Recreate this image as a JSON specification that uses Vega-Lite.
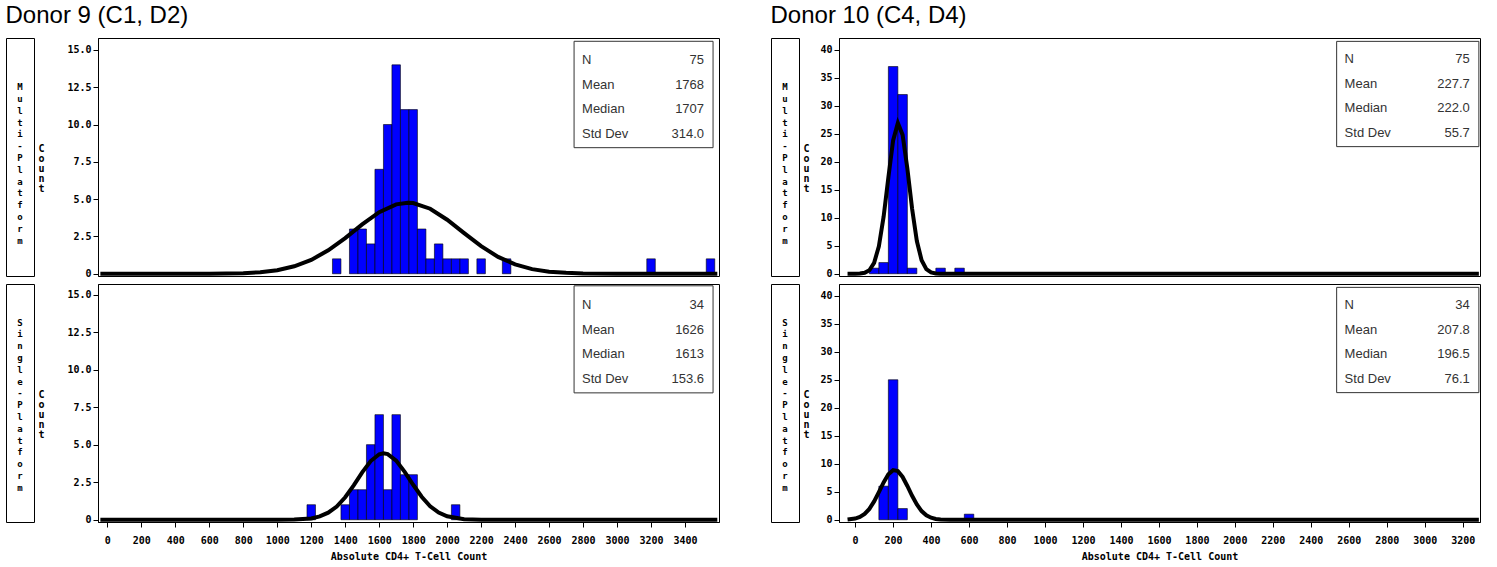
{
  "$schema": "https://vega.github.io/schema/vega-lite/v6.json",
  "padding": {"left": 5, "top": 3, "right": 0, "bottom": 0},
  "background": "white",
  "config": {
    "view": {"stroke": "black", "strokeWidth": 1},
    "font": "DejaVu Sans Mono",
    "axis": {"grid": false, "tickCount": 60, "domainColor": "black", "tickColor": "black", "labelFont": "DejaVu Sans Mono", "labelFontWeight": "bold", "labelFontSize": 10, "labelColor": "black", "labelOverlap": false, "labelFlush": false, "labelBound": false, "titleFont": "DejaVu Sans Mono", "titleFontWeight": "bold", "titleFontSize": 10, "titleColor": "black", "tickSize": 5}
  },
  "datasets": {
    "bars": [
      {"donor": "9", "platform": "Multi", "lo": 1325, "hi": 1375, "n": 1},
      {"donor": "9", "platform": "Multi", "lo": 1425, "hi": 1475, "n": 3},
      {"donor": "9", "platform": "Multi", "lo": 1475, "hi": 1525, "n": 3},
      {"donor": "9", "platform": "Multi", "lo": 1525, "hi": 1575, "n": 2},
      {"donor": "9", "platform": "Multi", "lo": 1575, "hi": 1625, "n": 7},
      {"donor": "9", "platform": "Multi", "lo": 1625, "hi": 1675, "n": 10},
      {"donor": "9", "platform": "Multi", "lo": 1675, "hi": 1725, "n": 14},
      {"donor": "9", "platform": "Multi", "lo": 1725, "hi": 1775, "n": 11},
      {"donor": "9", "platform": "Multi", "lo": 1775, "hi": 1825, "n": 11},
      {"donor": "9", "platform": "Multi", "lo": 1825, "hi": 1875, "n": 3},
      {"donor": "9", "platform": "Multi", "lo": 1875, "hi": 1925, "n": 1},
      {"donor": "9", "platform": "Multi", "lo": 1925, "hi": 1975, "n": 2},
      {"donor": "9", "platform": "Multi", "lo": 1975, "hi": 2025, "n": 1},
      {"donor": "9", "platform": "Multi", "lo": 2025, "hi": 2075, "n": 1},
      {"donor": "9", "platform": "Multi", "lo": 2075, "hi": 2125, "n": 1},
      {"donor": "9", "platform": "Multi", "lo": 2175, "hi": 2225, "n": 1},
      {"donor": "9", "platform": "Multi", "lo": 2325, "hi": 2375, "n": 1},
      {"donor": "9", "platform": "Multi", "lo": 3175, "hi": 3225, "n": 1},
      {"donor": "9", "platform": "Multi", "lo": 3525, "hi": 3575, "n": 1},
      {"donor": "9", "platform": "Single", "lo": 1175, "hi": 1225, "n": 1},
      {"donor": "9", "platform": "Single", "lo": 1375, "hi": 1425, "n": 1},
      {"donor": "9", "platform": "Single", "lo": 1425, "hi": 1475, "n": 2},
      {"donor": "9", "platform": "Single", "lo": 1475, "hi": 1525, "n": 2},
      {"donor": "9", "platform": "Single", "lo": 1525, "hi": 1575, "n": 5},
      {"donor": "9", "platform": "Single", "lo": 1575, "hi": 1625, "n": 7},
      {"donor": "9", "platform": "Single", "lo": 1625, "hi": 1675, "n": 2},
      {"donor": "9", "platform": "Single", "lo": 1675, "hi": 1725, "n": 7},
      {"donor": "9", "platform": "Single", "lo": 1725, "hi": 1775, "n": 3},
      {"donor": "9", "platform": "Single", "lo": 1775, "hi": 1825, "n": 3},
      {"donor": "9", "platform": "Single", "lo": 2025, "hi": 2075, "n": 1},
      {"donor": "10", "platform": "Multi", "lo": 75, "hi": 125, "n": 1},
      {"donor": "10", "platform": "Multi", "lo": 125, "hi": 175, "n": 2},
      {"donor": "10", "platform": "Multi", "lo": 175, "hi": 225, "n": 37},
      {"donor": "10", "platform": "Multi", "lo": 225, "hi": 275, "n": 32},
      {"donor": "10", "platform": "Multi", "lo": 275, "hi": 325, "n": 1},
      {"donor": "10", "platform": "Multi", "lo": 425, "hi": 475, "n": 1},
      {"donor": "10", "platform": "Multi", "lo": 525, "hi": 575, "n": 1},
      {"donor": "10", "platform": "Single", "lo": 125, "hi": 175, "n": 6},
      {"donor": "10", "platform": "Single", "lo": 175, "hi": 225, "n": 25},
      {"donor": "10", "platform": "Single", "lo": 225, "hi": 275, "n": 2},
      {"donor": "10", "platform": "Single", "lo": 575, "hi": 625, "n": 1}
    ],
    "curve": [
      {"donor": "9", "platform": "Multi", "x": -41, "y": 0},
      {"donor": "9", "platform": "Multi", "x": 600, "y": 0.005},
      {"donor": "9", "platform": "Multi", "x": 800, "y": 0.04},
      {"donor": "9", "platform": "Multi", "x": 900, "y": 0.1},
      {"donor": "9", "platform": "Multi", "x": 1000, "y": 0.24},
      {"donor": "9", "platform": "Multi", "x": 1100, "y": 0.5},
      {"donor": "9", "platform": "Multi", "x": 1200, "y": 0.93},
      {"donor": "9", "platform": "Multi", "x": 1300, "y": 1.57},
      {"donor": "9", "platform": "Multi", "x": 1400, "y": 2.39},
      {"donor": "9", "platform": "Multi", "x": 1500, "y": 3.31},
      {"donor": "9", "platform": "Multi", "x": 1600, "y": 4.13},
      {"donor": "9", "platform": "Multi", "x": 1700, "y": 4.65},
      {"donor": "9", "platform": "Multi", "x": 1768, "y": 4.76},
      {"donor": "9", "platform": "Multi", "x": 1800, "y": 4.74},
      {"donor": "9", "platform": "Multi", "x": 1900, "y": 4.36},
      {"donor": "9", "platform": "Multi", "x": 2000, "y": 3.62},
      {"donor": "9", "platform": "Multi", "x": 2100, "y": 2.72},
      {"donor": "9", "platform": "Multi", "x": 2200, "y": 1.85},
      {"donor": "9", "platform": "Multi", "x": 2300, "y": 1.13},
      {"donor": "9", "platform": "Multi", "x": 2400, "y": 0.63},
      {"donor": "9", "platform": "Multi", "x": 2500, "y": 0.31},
      {"donor": "9", "platform": "Multi", "x": 2600, "y": 0.14},
      {"donor": "9", "platform": "Multi", "x": 2700, "y": 0.06},
      {"donor": "9", "platform": "Multi", "x": 2800, "y": 0.02},
      {"donor": "9", "platform": "Multi", "x": 3000, "y": 0},
      {"donor": "9", "platform": "Multi", "x": 3590, "y": 0},
      {"donor": "9", "platform": "Single", "x": -41, "y": 0},
      {"donor": "9", "platform": "Single", "x": 1000, "y": 0},
      {"donor": "9", "platform": "Single", "x": 1100, "y": 0.01},
      {"donor": "9", "platform": "Single", "x": 1200, "y": 0.09},
      {"donor": "9", "platform": "Single", "x": 1250, "y": 0.22},
      {"donor": "9", "platform": "Single", "x": 1300, "y": 0.47},
      {"donor": "9", "platform": "Single", "x": 1350, "y": 0.88},
      {"donor": "9", "platform": "Single", "x": 1400, "y": 1.5},
      {"donor": "9", "platform": "Single", "x": 1450, "y": 2.29},
      {"donor": "9", "platform": "Single", "x": 1500, "y": 3.16},
      {"donor": "9", "platform": "Single", "x": 1550, "y": 3.91},
      {"donor": "9", "platform": "Single", "x": 1600, "y": 4.36},
      {"donor": "9", "platform": "Single", "x": 1626, "y": 4.42},
      {"donor": "9", "platform": "Single", "x": 1650, "y": 4.37},
      {"donor": "9", "platform": "Single", "x": 1700, "y": 3.94},
      {"donor": "9", "platform": "Single", "x": 1750, "y": 3.19},
      {"donor": "9", "platform": "Single", "x": 1800, "y": 2.33},
      {"donor": "9", "platform": "Single", "x": 1850, "y": 1.53},
      {"donor": "9", "platform": "Single", "x": 1900, "y": 0.9},
      {"donor": "9", "platform": "Single", "x": 1950, "y": 0.48},
      {"donor": "9", "platform": "Single", "x": 2000, "y": 0.23},
      {"donor": "9", "platform": "Single", "x": 2100, "y": 0.04},
      {"donor": "9", "platform": "Single", "x": 2200, "y": 0},
      {"donor": "9", "platform": "Single", "x": 3590, "y": 0},
      {"donor": "10", "platform": "Multi", "x": -40, "y": 0},
      {"donor": "10", "platform": "Multi", "x": 0, "y": 0.01},
      {"donor": "10", "platform": "Multi", "x": 25, "y": 0.04},
      {"donor": "10", "platform": "Multi", "x": 50, "y": 0.17},
      {"donor": "10", "platform": "Multi", "x": 75, "y": 0.63},
      {"donor": "10", "platform": "Multi", "x": 100, "y": 1.94},
      {"donor": "10", "platform": "Multi", "x": 125, "y": 4.92},
      {"donor": "10", "platform": "Multi", "x": 150, "y": 10.2},
      {"donor": "10", "platform": "Multi", "x": 175, "y": 17.2},
      {"donor": "10", "platform": "Multi", "x": 200, "y": 23.8},
      {"donor": "10", "platform": "Multi", "x": 225, "y": 26.9},
      {"donor": "10", "platform": "Multi", "x": 250, "y": 24.8},
      {"donor": "10", "platform": "Multi", "x": 275, "y": 18.8},
      {"donor": "10", "platform": "Multi", "x": 300, "y": 11.6},
      {"donor": "10", "platform": "Multi", "x": 325, "y": 5.85},
      {"donor": "10", "platform": "Multi", "x": 350, "y": 2.42},
      {"donor": "10", "platform": "Multi", "x": 375, "y": 0.81},
      {"donor": "10", "platform": "Multi", "x": 400, "y": 0.23},
      {"donor": "10", "platform": "Multi", "x": 425, "y": 0.05},
      {"donor": "10", "platform": "Multi", "x": 450, "y": 0.01},
      {"donor": "10", "platform": "Multi", "x": 500, "y": 0},
      {"donor": "10", "platform": "Multi", "x": 3285, "y": 0},
      {"donor": "10", "platform": "Single", "x": -40, "y": 0.05},
      {"donor": "10", "platform": "Single", "x": 0, "y": 0.21},
      {"donor": "10", "platform": "Single", "x": 25, "y": 0.5},
      {"donor": "10", "platform": "Single", "x": 50, "y": 1.04},
      {"donor": "10", "platform": "Single", "x": 75, "y": 1.94},
      {"donor": "10", "platform": "Single", "x": 100, "y": 3.27},
      {"donor": "10", "platform": "Single", "x": 125, "y": 4.93},
      {"donor": "10", "platform": "Single", "x": 150, "y": 6.67},
      {"donor": "10", "platform": "Single", "x": 175, "y": 8.12},
      {"donor": "10", "platform": "Single", "x": 200, "y": 8.86},
      {"donor": "10", "platform": "Single", "x": 225, "y": 8.68},
      {"donor": "10", "platform": "Single", "x": 250, "y": 7.64},
      {"donor": "10", "platform": "Single", "x": 275, "y": 6.03},
      {"donor": "10", "platform": "Single", "x": 300, "y": 4.28},
      {"donor": "10", "platform": "Single", "x": 325, "y": 2.72},
      {"donor": "10", "platform": "Single", "x": 350, "y": 1.55},
      {"donor": "10", "platform": "Single", "x": 375, "y": 0.8},
      {"donor": "10", "platform": "Single", "x": 400, "y": 0.37},
      {"donor": "10", "platform": "Single", "x": 425, "y": 0.15},
      {"donor": "10", "platform": "Single", "x": 450, "y": 0.06},
      {"donor": "10", "platform": "Single", "x": 500, "y": 0.01},
      {"donor": "10", "platform": "Single", "x": 550, "y": 0},
      {"donor": "10", "platform": "Single", "x": 3285, "y": 0}
    ],
    "stats": [
      {"donor": "9", "platform": "Multi", "labels": "N\nMean\nMedian\nStd Dev", "values": "75\n1768\n1707\n314.0"},
      {"donor": "9", "platform": "Single", "labels": "N\nMean\nMedian\nStd Dev", "values": "34\n1626\n1613\n153.6"},
      {"donor": "10", "platform": "Multi", "labels": "N\nMean\nMedian\nStd Dev", "values": "75\n227.7\n222.0\n55.7"},
      {"donor": "10", "platform": "Single", "labels": "N\nMean\nMedian\nStd Dev", "values": "34\n207.8\n196.5\n76.1"}
    ],
    "rowlabels": [
      {"platform": "Multi", "txt": "M\nu\nl\nt\ni\n-\nP\nl\na\nt\nf\no\nr\nm"},
      {"platform": "Single", "txt": "S\ni\nn\ng\nl\ne\n-\nP\nl\na\nt\nf\no\nr\nm"}
    ]
  },
  "spacing": 50,
  "hconcat": [
    {
      "title": {"text": "Donor 9 (C1, D2)", "anchor": "start", "font": "Liberation Sans", "fontSize": 24, "fontWeight": "normal", "color": "black", "offset": 10},
      "spacing": 3,
      "vconcat": [
        {
          "spacing": 2,
          "hconcat": [
            {"width": 28, "height": 238, "data": {"name": "rowlabels"}, "transform": [{"filter": "datum.platform == 'Multi'"}],
             "mark": {"type": "text", "baseline": "top", "lineBreak": "\n", "lineHeight": 11.8, "fontWeight": "bold", "fontSize": 9, "font": "DejaVu Sans Mono", "color": "black"},
             "encoding": {"text": {"field": "txt"}, "x": {"datum": 0.5, "scale": {"domain": [0, 1]}, "axis": null}, "y": {"datum": 0.81, "scale": {"domain": [0, 1]}, "axis": null}}},
            {"width": 621, "height": 238,
             "layer": [
               {"data": {"name": "bars"}, "transform": [{"filter": "datum.donor == '9' && datum.platform == 'Multi'"}],
                "mark": {"type": "rect", "fill": "#0000FF", "stroke": "black", "strokeWidth": 0.6},
                "encoding": {
                  "x": {"field": "lo", "type": "quantitative", "scale": {"domain": [-55, 3600], "nice": false, "zero": false}, "axis": null},
                  "x2": {"field": "hi"},
                  "y": {"field": "n", "type": "quantitative", "scale": {"domain": [-0.15, 15.8], "nice": false, "zero": false},
                        "axis": {"values": [0, 2.5, 5, 7.5, 10, 12.5, 15], "tickCount": 60, "labelExpr": "datum.value == 0 ? '0' : format(datum.value, '.1f')", "title": ["C", "o", "u", "n", "t"], "titleAngle": 0, "titleLineHeight": 10, "titleAlign": "center", "titleBaseline": "middle", "titleX": -57, "titleY": 110}},
                  "y2": {"datum": 0}
                }},
               {"data": {"name": "curve"}, "transform": [{"filter": "datum.donor == '9' && datum.platform == 'Multi'"}],
                "mark": {"type": "line", "color": "black", "strokeWidth": 4, "clip": true},
                "encoding": {"x": {"field": "x", "type": "quantitative"}, "y": {"field": "y", "type": "quantitative"}}},
               {"data": {"name": "stats"}, "transform": [{"filter": "datum.donor == '9' && datum.platform == 'Multi'"}],
                "mark": {"type": "rect", "fill": "white", "stroke": "#333", "strokeWidth": 1},
                "encoding": {"x": {"datum": 2747}, "x2": {"datum": 3565}, "y": {"datum": 15.58}, "y2": {"datum": 8.45}}},
               {"data": {"name": "stats"}, "transform": [{"filter": "datum.donor == '9' && datum.platform == 'Multi'"}],
                "mark": {"type": "text", "align": "left", "baseline": "top", "lineBreak": "\n", "lineHeight": 24.5, "font": "Liberation Sans", "fontSize": 13, "color": "#333"},
                "encoding": {"text": {"field": "labels"}, "x": {"datum": 2794}, "y": {"datum": 14.7}}},
               {"data": {"name": "stats"}, "transform": [{"filter": "datum.donor == '9' && datum.platform == 'Multi'"}],
                "mark": {"type": "text", "align": "right", "baseline": "top", "lineBreak": "\n", "lineHeight": 24.5, "font": "Liberation Sans", "fontSize": 13, "color": "#333"},
                "encoding": {"text": {"field": "values"}, "x": {"datum": 3512}, "y": {"datum": 14.7}}}
             ]}
          ]
        },
        {
          "spacing": 2,
          "hconcat": [
            {"width": 28, "height": 238, "data": {"name": "rowlabels"}, "transform": [{"filter": "datum.platform == 'Single'"}],
             "mark": {"type": "text", "baseline": "top", "lineBreak": "\n", "lineHeight": 11.8, "fontWeight": "bold", "fontSize": 9, "font": "DejaVu Sans Mono", "color": "black"},
             "encoding": {"text": {"field": "txt"}, "x": {"datum": 0.5, "scale": {"domain": [0, 1]}, "axis": null}, "y": {"datum": 0.855, "scale": {"domain": [0, 1]}, "axis": null}}},
            {"width": 621, "height": 238,
             "layer": [
               {"data": {"name": "bars"}, "transform": [{"filter": "datum.donor == '9' && datum.platform == 'Single'"}],
                "mark": {"type": "rect", "fill": "#0000FF", "stroke": "black", "strokeWidth": 0.6},
                "encoding": {
                  "x": {"field": "lo", "type": "quantitative", "scale": {"domain": [-55, 3600], "nice": false, "zero": false},
                        "axis": {"values": [0, 200, 400, 600, 800, 1000, 1200, 1400, 1600, 1800, 2000, 2200, 2400, 2600, 2800, 3000, 3200, 3400], "tickCount": 60, "format": "d", "title": "Absolute CD4+ T-Cell Count", "labelPadding": 8, "titlePadding": 6}},
                  "x2": {"field": "hi"},
                  "y": {"field": "n", "type": "quantitative", "scale": {"domain": [-0.15, 15.7], "nice": false, "zero": false},
                        "axis": {"values": [0, 2.5, 5, 7.5, 10, 12.5, 15], "tickCount": 60, "labelExpr": "datum.value == 0 ? '0' : format(datum.value, '.1f')", "title": ["C", "o", "u", "n", "t"], "titleAngle": 0, "titleLineHeight": 10, "titleAlign": "center", "titleBaseline": "middle", "titleX": -57, "titleY": 110}},
                  "y2": {"datum": 0}
                }},
               {"data": {"name": "curve"}, "transform": [{"filter": "datum.donor == '9' && datum.platform == 'Single'"}],
                "mark": {"type": "line", "color": "black", "strokeWidth": 4, "clip": true},
                "encoding": {"x": {"field": "x", "type": "quantitative"}, "y": {"field": "y", "type": "quantitative"}}},
               {"data": {"name": "stats"}, "transform": [{"filter": "datum.donor == '9' && datum.platform == 'Single'"}],
                "mark": {"type": "rect", "fill": "white", "stroke": "#333", "strokeWidth": 1},
                "encoding": {"x": {"datum": 2747}, "x2": {"datum": 3565}, "y": {"datum": 15.58}, "y2": {"datum": 8.45}}},
               {"data": {"name": "stats"}, "transform": [{"filter": "datum.donor == '9' && datum.platform == 'Single'"}],
                "mark": {"type": "text", "align": "left", "baseline": "top", "lineBreak": "\n", "lineHeight": 24.5, "font": "Liberation Sans", "fontSize": 13, "color": "#333"},
                "encoding": {"text": {"field": "labels"}, "x": {"datum": 2794}, "y": {"datum": 14.7}}},
               {"data": {"name": "stats"}, "transform": [{"filter": "datum.donor == '9' && datum.platform == 'Single'"}],
                "mark": {"type": "text", "align": "right", "baseline": "top", "lineBreak": "\n", "lineHeight": 24.5, "font": "Liberation Sans", "fontSize": 13, "color": "#333"},
                "encoding": {"text": {"field": "values"}, "x": {"datum": 3512}, "y": {"datum": 14.7}}}
             ]}
          ]
        }
      ]
    },
    {
      "title": {"text": "Donor 10 (C4, D4)", "anchor": "start", "font": "Liberation Sans", "fontSize": 24, "fontWeight": "normal", "color": "black", "offset": 10},
      "spacing": 3,
      "vconcat": [
        {
          "spacing": 2,
          "hconcat": [
            {"width": 28, "height": 238, "data": {"name": "rowlabels"}, "transform": [{"filter": "datum.platform == 'Multi'"}],
             "mark": {"type": "text", "baseline": "top", "lineBreak": "\n", "lineHeight": 11.8, "fontWeight": "bold", "fontSize": 9, "font": "DejaVu Sans Mono", "color": "black"},
             "encoding": {"text": {"field": "txt"}, "x": {"datum": 0.5, "scale": {"domain": [0, 1]}, "axis": null}, "y": {"datum": 0.81, "scale": {"domain": [0, 1]}, "axis": null}}},
            {"width": 641, "height": 238,
             "layer": [
               {"data": {"name": "bars"}, "transform": [{"filter": "datum.donor == '10' && datum.platform == 'Multi'"}],
                "mark": {"type": "rect", "fill": "#0000FF", "stroke": "black", "strokeWidth": 0.6},
                "encoding": {
                  "x": {"field": "lo", "type": "quantitative", "scale": {"domain": [-85, 3291], "nice": false, "zero": false}, "axis": null},
                  "x2": {"field": "hi"},
                  "y": {"field": "n", "type": "quantitative", "scale": {"domain": [-0.4, 42.1], "nice": false, "zero": false},
                        "axis": {"values": [0, 5, 10, 15, 20, 25, 30, 35, 40], "tickCount": 60, "title": ["C", "o", "u", "n", "t"], "titleAngle": 0, "titleLineHeight": 10, "titleAlign": "center", "titleBaseline": "middle", "titleX": -33, "titleY": 110}},
                  "y2": {"datum": 0}
                }},
               {"data": {"name": "curve"}, "transform": [{"filter": "datum.donor == '10' && datum.platform == 'Multi'"}],
                "mark": {"type": "line", "color": "black", "strokeWidth": 4, "clip": true},
                "encoding": {"x": {"field": "x", "type": "quantitative"}, "y": {"field": "y", "type": "quantitative"}}},
               {"data": {"name": "stats"}, "transform": [{"filter": "datum.donor == '10' && datum.platform == 'Multi'"}],
                "mark": {"type": "rect", "fill": "white", "stroke": "#333", "strokeWidth": 1},
                "encoding": {"x": {"datum": 2536}, "x2": {"datum": 3285}, "y": {"datum": 41.5}, "y2": {"datum": 22.7}}},
               {"data": {"name": "stats"}, "transform": [{"filter": "datum.donor == '10' && datum.platform == 'Multi'"}],
                "mark": {"type": "text", "align": "left", "baseline": "top", "lineBreak": "\n", "lineHeight": 24.5, "font": "Liberation Sans", "fontSize": 13, "color": "#333"},
                "encoding": {"text": {"field": "labels"}, "x": {"datum": 2578}, "y": {"datum": 39.4}}},
               {"data": {"name": "stats"}, "transform": [{"filter": "datum.donor == '10' && datum.platform == 'Multi'"}],
                "mark": {"type": "text", "align": "right", "baseline": "top", "lineBreak": "\n", "lineHeight": 24.5, "font": "Liberation Sans", "fontSize": 13, "color": "#333"},
                "encoding": {"text": {"field": "values"}, "x": {"datum": 3237}, "y": {"datum": 39.4}}}
             ]}
          ]
        },
        {
          "spacing": 2,
          "hconcat": [
            {"width": 28, "height": 238, "data": {"name": "rowlabels"}, "transform": [{"filter": "datum.platform == 'Single'"}],
             "mark": {"type": "text", "baseline": "top", "lineBreak": "\n", "lineHeight": 11.8, "fontWeight": "bold", "fontSize": 9, "font": "DejaVu Sans Mono", "color": "black"},
             "encoding": {"text": {"field": "txt"}, "x": {"datum": 0.5, "scale": {"domain": [0, 1]}, "axis": null}, "y": {"datum": 0.855, "scale": {"domain": [0, 1]}, "axis": null}}},
            {"width": 641, "height": 238,
             "layer": [
               {"data": {"name": "bars"}, "transform": [{"filter": "datum.donor == '10' && datum.platform == 'Single'"}],
                "mark": {"type": "rect", "fill": "#0000FF", "stroke": "black", "strokeWidth": 0.6},
                "encoding": {
                  "x": {"field": "lo", "type": "quantitative", "scale": {"domain": [-85, 3291], "nice": false, "zero": false},
                        "axis": {"values": [0, 200, 400, 600, 800, 1000, 1200, 1400, 1600, 1800, 2000, 2200, 2400, 2600, 2800, 3000, 3200], "tickCount": 60, "format": "d", "title": "Absolute CD4+ T-Cell Count", "labelPadding": 8, "titlePadding": 6}},
                  "x2": {"field": "hi"},
                  "y": {"field": "n", "type": "quantitative", "scale": {"domain": [-0.4, 42.1], "nice": false, "zero": false},
                        "axis": {"values": [0, 5, 10, 15, 20, 25, 30, 35, 40], "tickCount": 60, "title": ["C", "o", "u", "n", "t"], "titleAngle": 0, "titleLineHeight": 10, "titleAlign": "center", "titleBaseline": "middle", "titleX": -33, "titleY": 110}},
                  "y2": {"datum": 0}
                }},
               {"data": {"name": "curve"}, "transform": [{"filter": "datum.donor == '10' && datum.platform == 'Single'"}],
                "mark": {"type": "line", "color": "black", "strokeWidth": 4, "clip": true},
                "encoding": {"x": {"field": "x", "type": "quantitative"}, "y": {"field": "y", "type": "quantitative"}}},
               {"data": {"name": "stats"}, "transform": [{"filter": "datum.donor == '10' && datum.platform == 'Single'"}],
                "mark": {"type": "rect", "fill": "white", "stroke": "#333", "strokeWidth": 1},
                "encoding": {"x": {"datum": 2536}, "x2": {"datum": 3285}, "y": {"datum": 41.5}, "y2": {"datum": 22.7}}},
               {"data": {"name": "stats"}, "transform": [{"filter": "datum.donor == '10' && datum.platform == 'Single'"}],
                "mark": {"type": "text", "align": "left", "baseline": "top", "lineBreak": "\n", "lineHeight": 24.5, "font": "Liberation Sans", "fontSize": 13, "color": "#333"},
                "encoding": {"text": {"field": "labels"}, "x": {"datum": 2578}, "y": {"datum": 39.4}}},
               {"data": {"name": "stats"}, "transform": [{"filter": "datum.donor == '10' && datum.platform == 'Single'"}],
                "mark": {"type": "text", "align": "right", "baseline": "top", "lineBreak": "\n", "lineHeight": 24.5, "font": "Liberation Sans", "fontSize": 13, "color": "#333"},
                "encoding": {"text": {"field": "values"}, "x": {"datum": 3237}, "y": {"datum": 39.4}}}
             ]}
          ]
        }
      ]
    }
  ]
}
